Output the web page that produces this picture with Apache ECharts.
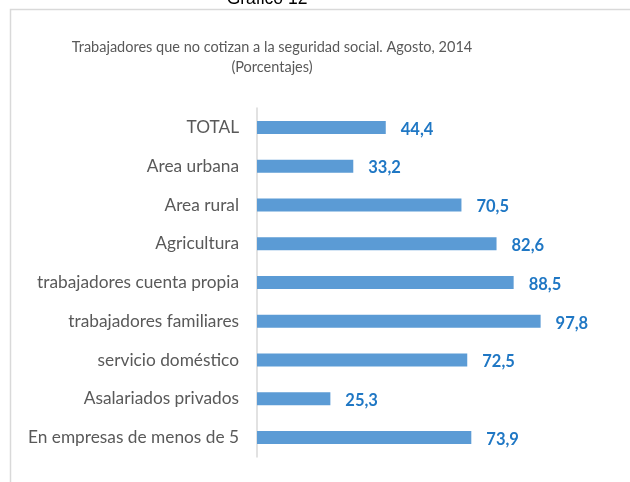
<!DOCTYPE html>
<html>
<head>
<meta charset="utf-8">
<script src="https://cdn.jsdelivr.net/npm/echarts@6/dist/echarts.min.js"></script>
<style>
	html, body { margin: 0; padding: 0; background: #ffffff; }
	#chart { width: 630px; height: 482px; }
</style>
</head>
<body>
<div id="chart"></div>
<script>
// categorias (de arriba hacia abajo)
const categorias = [
	'TOTAL',
	'Area urbana',
	'Area rural',
	'Agricultura',
	'trabajadores cuenta propia',
	'trabajadores familiares',
	'servicio doméstico',
	'Asalariados privados',
	'En empresas de menos de 5'
];
// porcentajes
const valores = [44.4, 33.2, 70.5, 82.6, 88.5, 97.8, 72.5, 25.3, 73.9];

const fuente = 'Lato, "Open Sans", sans-serif';
const chart = echarts.init(document.getElementById('chart'), null, { renderer: 'canvas' });

const option = {
	animation: false,
	backgroundColor: '#ffffff',
	title: {
		text: 'Trabajadores que no cotizan a la seguridad social. Agosto, 2014\n(Porcentajes)',
		left: 267,
		top: 32,
		textAlign: 'center',
		textStyle: {
			fontFamily: fuente,
			fontSize: 14.5,
			fontWeight: 'normal',
			color: '#595959',
			lineHeight: 20
		}
	},
	graphic: [
		{
			type: 'rect',
			shape: { x: 10.5, y: 9.5, width: 640, height: 500 },
			style: { fill: 'none', stroke: '#d9d9d9', lineWidth: 1.5 },
			silent: true
		},
		{
			type: 'text',
			x: 267,
			y: -10,
			style: {
				text: 'Gráfico 12',
				fontFamily: '"Liberation Sans", Arial, sans-serif',
				fontSize: 17.5,
				fill: '#000000',
				align: 'center'
			},
			silent: true
		}
	],
	grid: {
		left: 257,
		right: 83,
		top: 108,
		bottom: 25,
		containLabel: false
	},
	xAxis: {
		type: 'value',
		min: 0,
		max: 100,
		show: false
	},
	yAxis: {
		type: 'category',
		inverse: true,
		data: categorias,
		axisLine: { show: true, lineStyle: { color: '#d9d9d9', width: 1.5 } },
		axisTick: { show: false },
		axisLabel: {
			margin: 18,
			fontFamily: fuente,
			fontSize: 17.3,
			color: '#595959'
		}
	},
	series: [
		{
			type: 'bar',
			data: valores,
			barWidth: 13,
			itemStyle: { color: '#5b9bd5' },
			label: {
				show: true,
				position: 'right',
				distance: 15,
				offset: [0, 2],
				formatter: (p) => p.value.toFixed(1).replace('.', ','),
				fontFamily: fuente,
				fontSize: 16.5,
				fontWeight: 'bold',
				color: '#1f77c4'
			}
		}
	]
};
chart.setOption(option);
</script>
</body>
</html>
